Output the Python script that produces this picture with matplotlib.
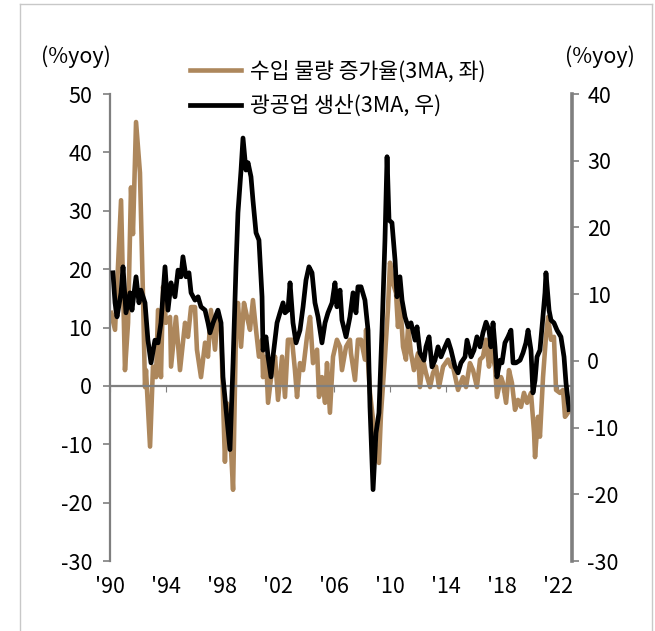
import matplotlib
matplotlib.use("Agg")
import matplotlib.pyplot as plt
from matplotlib.lines import Line2D

plt.rcParams['font.family'] = ['Noto Sans CJK KR', 'DejaVu Sans']
plt.rcParams['axes.unicode_minus'] = False

# 수입 물량 증가율 (3MA, 좌축)
imp_year = [1990.07, 1990.36, 1990.79, 1991.07, 1991.29, 1991.50, 1991.64, 1991.86, 1992.14, 1992.36,
            1992.50, 1992.57, 1992.86, 1993.07, 1993.29, 1993.43, 1993.64, 1993.79, 1994.00, 1994.29,
            1994.36, 1994.71, 1995.00, 1995.36, 1995.57, 1995.79, 1996.07, 1996.21, 1996.50, 1996.79,
            1997.00, 1997.21, 1997.50, 1997.71, 1997.93, 1998.07, 1998.21, 1998.36, 1998.57, 1998.79,
            1999.00, 1999.14, 1999.36, 1999.57, 1999.79, 2000.00, 2000.21, 2000.43, 2000.64, 2000.86,
            2000.93, 2001.14, 2001.29, 2001.57, 2001.79, 2002.00, 2002.29, 2002.50, 2002.71, 2003.00,
            2003.21, 2003.36, 2003.57, 2003.79, 2004.07, 2004.29, 2004.50, 2004.79, 2004.93, 2005.14,
            2005.36, 2005.50, 2005.71, 2005.93, 2006.21, 2006.43, 2006.57, 2006.86, 2007.14, 2007.21,
            2007.50, 2007.71, 2007.93, 2008.21, 2008.29, 2008.57, 2008.79, 2009.00, 2009.21, 2009.36,
            2009.64, 2009.86, 2010.00, 2010.21, 2010.43, 2010.57, 2010.71, 2010.93, 2011.14, 2011.29,
            2011.50, 2011.71, 2012.00, 2012.14, 2012.36, 2012.57, 2012.86, 2013.07, 2013.29, 2013.50,
            2013.79, 2014.14, 2014.36, 2014.50, 2014.86, 2015.21, 2015.43, 2015.71, 2015.93, 2016.21,
            2016.43, 2016.64, 2016.86, 2017.07, 2017.21, 2017.50, 2017.64, 2017.93, 2018.07, 2018.29,
            2018.50, 2018.71, 2018.93, 2019.14, 2019.36, 2019.57, 2019.79, 2020.07, 2020.29, 2020.36,
            2020.57, 2020.71, 2020.93, 2021.14, 2021.29, 2021.50, 2021.71, 2021.86, 2022.14, 2022.36,
            2022.50, 2022.71]
imp_val = [12.5, 9.6, 31.8, 2.7, 10.8, 34.0, 26.0, 45.2, 36.5, 15.0,
           -0.2, 2.7, -10.4, 3.3, 1.5, 13.0, 1.5, 17.0, 10.8, 11.8,
           3.3, 11.8, 2.7, 10.8, 8.4, 13.5, 13.5, 6.2, 1.5, 7.4,
           5.0, 13.0, 6.2, 12.5, 10.0, -2.0, -13.0, -3.0, -7.5, -17.8,
           9.6, 14.2, 6.7, 14.2, 11.8, 9.6, 14.7, 9.6, 5.0, 7.9,
           1.5, 5.0, -2.9, 2.7, 5.0, -2.4, 5.0, -1.9, 7.9, 7.9,
           2.7, -1.9, 3.9, 2.7, 8.4, 11.8, 3.9, 6.2, -1.9, 1.5,
           -2.9, 3.9, -4.6, 5.0, 7.9, 6.7, 2.7, 6.7, 7.9, 5.6,
           1.0, 7.9, 7.9, 4.5, 9.6, -1.2, -5.8, -12.2, -13.2, -4.6,
           5.0, 13.5, 21.1, 17.6, 15.9, 10.1, 15.2, 6.7, 4.5, 10.1,
           5.6, 2.7, 5.6, -0.2, 4.5, 2.2, -0.2, 2.2, 3.3, -0.2,
           3.3, 4.5, 3.3, 3.3, -0.7, 1.5, -0.2, 3.9, 2.7, -0.2,
           4.5, 5.0, 7.9, 3.3, 6.2, 3.3, -1.9, 1.5, 0.5, -2.9,
           2.7, 0.5, -4.1, -2.4, -3.6, -1.2, -2.9, -1.2, -8.0, -12.2,
           -5.3, -8.7, 1.5, 8.4, 11.8, 7.9, 8.4, -0.7, -1.2, -0.7,
           -5.3, -4.6]

# 광공업 생산 (3MA, 우축)
ind_year = [1990.21, 1990.36, 1990.50, 1990.79, 1990.93, 1991.14, 1991.43, 1991.57, 1991.86, 1992.07,
            1992.21, 1992.50, 1992.71, 1992.93, 1993.21, 1993.43, 1993.64, 1993.93, 1994.14, 1994.36,
            1994.64, 1994.86, 1995.07, 1995.21, 1995.43, 1995.64, 1995.79, 1996.07, 1996.29, 1996.50,
            1996.79, 1997.00, 1997.14, 1997.36, 1997.71, 1997.93, 1998.07, 1998.29, 1998.57, 1998.79,
            1999.00, 1999.14, 1999.36, 1999.50, 1999.71, 1999.86, 2000.07, 2000.21, 2000.43, 2000.64,
            2000.86, 2000.93, 2001.14, 2001.29, 2001.50, 2001.64, 2001.93, 2002.14, 2002.36, 2002.50,
            2002.71, 2002.86, 2003.07, 2003.29, 2003.57, 2003.79, 2004.00, 2004.21, 2004.43, 2004.64,
            2004.86, 2005.14, 2005.36, 2005.57, 2005.86, 2006.07, 2006.21, 2006.43, 2006.57, 2006.86,
            2007.14, 2007.36, 2007.57, 2007.71, 2007.93, 2008.21, 2008.43, 2008.57, 2008.79, 2009.00,
            2009.21, 2009.43, 2009.64, 2009.79, 2009.93, 2010.14, 2010.36, 2010.50, 2010.71, 2010.86,
            2011.07, 2011.29, 2011.50, 2011.79, 2011.93, 2012.14, 2012.43, 2012.57, 2012.79, 2013.00,
            2013.21, 2013.43, 2013.64, 2013.93, 2014.14, 2014.36, 2014.64, 2014.86, 2015.07, 2015.36,
            2015.50, 2015.79, 2016.00, 2016.21, 2016.43, 2016.64, 2016.86, 2017.07, 2017.21, 2017.36,
            2017.50, 2017.64, 2017.86, 2018.00, 2018.21, 2018.43, 2018.64, 2018.79, 2019.00, 2019.29,
            2019.50, 2019.71, 2019.86, 2020.07, 2020.21, 2020.36, 2020.50, 2020.71, 2020.86, 2021.07,
            2021.14, 2021.36, 2021.50, 2021.71, 2021.93, 2022.21, 2022.43, 2022.57, 2022.79]
ind_val = [13.2, 8.7, 6.6, 10.2, 14.1, 7.2, 10.2, 7.6, 12.6, 8.7,
           10.6, 8.7, 3.1, -0.3, 3.1, 2.7, 5.7, 14.1, 7.6, 11.7,
           9.6, 13.6, 12.6, 15.6, 12.6, 13.2, 10.2, 9.1, 9.6, 8.1,
           7.6, 5.7, 4.2, 5.7, 7.6, 5.7, -2.4, -7.3, -13.3, -0.3,
           14.1, 22.2, 28.6, 33.4, 28.6, 29.7, 27.6, 24.1, 19.2, 18.1,
           9.6, 1.6, 3.6, 0.6, -2.4, 0.6, 5.7, 7.2, 8.7, 7.2,
           7.6, 11.7, 5.7, 2.7, 4.6, 8.1, 12.1, 14.1, 13.2, 8.7,
           6.6, 2.7, 5.7, 7.2, 8.7, 11.7, 8.1, 10.6, 6.1, 3.6,
           6.6, 10.2, 7.2, 11.1, 11.1, 9.1, 4.6, -6.9, -19.3, -10.8,
           -7.8, 4.6, 18.1, 30.6, 21.1, 20.7, 15.1, 9.6, 12.6, 9.1,
           6.6, 5.1, 5.7, 3.1, 5.1, 1.2, 0.1, 2.1, 3.6, -0.9,
           0.1, 2.1, 0.6, 2.1, 3.1, 1.6, -0.9, -1.8, -0.3, 0.6,
           3.1, 0.6, 1.6, 3.6, 2.1, 4.2, 5.8, 4.6, 2.1, 5.7,
           2.1, -2.4, 0.1, -0.3, 2.7, 3.6, 4.6, -0.3, -0.3, 0.1,
           1.2, 2.7, 4.6, 1.6, -4.8, -2.9, 0.6, 1.6, 5.1, 10.2,
           13.2, 7.6, 6.1, 5.7, 4.6, 3.6, 0.6, -3.3, -7.3]

tick_years = [1990, 1994, 1998, 2002, 2006, 2010, 2014, 2018, 2022]
tick_labels = ["'90", "'94", "'98", "'02", "'06", "'10", "'14", "'18", "'22"]

tan = '#AD875C'
gray = '#7F7F7F'
fs = 15.5

fig = plt.figure(figsize=(6.55, 6.31), dpi=100)
ax = fig.add_axes([110/655, 1-561/631, 462/655, 467/631])
ax2 = ax.twinx()

l1, = ax.plot(imp_year, imp_val, color=tan, lw=3.3, label='수입 물량 증가율(3MA, 좌)')
l2, = ax2.plot(ind_year, ind_val, color='black', lw=3.4, label='광공업 생산(3MA, 우)')

ax.set_xlim(1990, 2023)
ax.set_ylim(-30, 50)
ax2.set_ylim(-30, 40)
ax.set_yticks(range(-30, 51, 10))
ax2.set_yticks(range(-30, 41, 10))

ax.spines['top'].set_visible(False)
ax2.spines['top'].set_visible(False)
ax.spines['right'].set_visible(False)
ax2.spines['left'].set_visible(False)
ax2.spines['bottom'].set_visible(False)
ax.spines['left'].set_color(gray)
ax.spines['left'].set_linewidth(1.6)
ax2.spines['right'].set_color(gray)
ax2.spines['right'].set_linewidth(2.6)
ax.spines['bottom'].set_position(('data', 0))
ax.spines['bottom'].set_color(gray)
ax.spines['bottom'].set_linewidth(1.6)

ax.set_xticks(tick_years)
ax.set_xticklabels(tick_labels)
ax.tick_params(axis='x', direction='out', length=4, color=gray, labelsize=fs, pad=133)
ax.tick_params(axis='y', direction='out', length=5, width=1.2, color=gray, labelsize=fs, pad=8)
ax2.tick_params(axis='y', direction='out', length=5, width=1.2, color=gray, labelsize=fs, pad=6)

fig.text(76/655, 1-57/631, '(%yoy)', ha='center', va='center', fontsize=fs)
fig.text(600/655, 1-57/631, '(%yoy)', ha='center', va='center', fontsize=fs)

fig.legend(handles=[l1, l2], loc='upper left', bbox_to_anchor=(179/655, 1-50/631),
           frameon=False, fontsize=fs, handlelength=2.4, handletextpad=0.4,
           labelspacing=0.55, borderpad=0)

# outer box (left, top, right)
box = '#C8C8C8'
fig.add_artist(Line2D([20/655, 20/655], [0, 1-4/631], transform=fig.transFigure, color=box, lw=1))
fig.add_artist(Line2D([20/655, 652/655], [1-4/631, 1-4/631], transform=fig.transFigure, color=box, lw=1))
fig.add_artist(Line2D([652/655, 652/655], [0, 1-4/631], transform=fig.transFigure, color=box, lw=1))

fig.savefig('out.png', dpi=100)
